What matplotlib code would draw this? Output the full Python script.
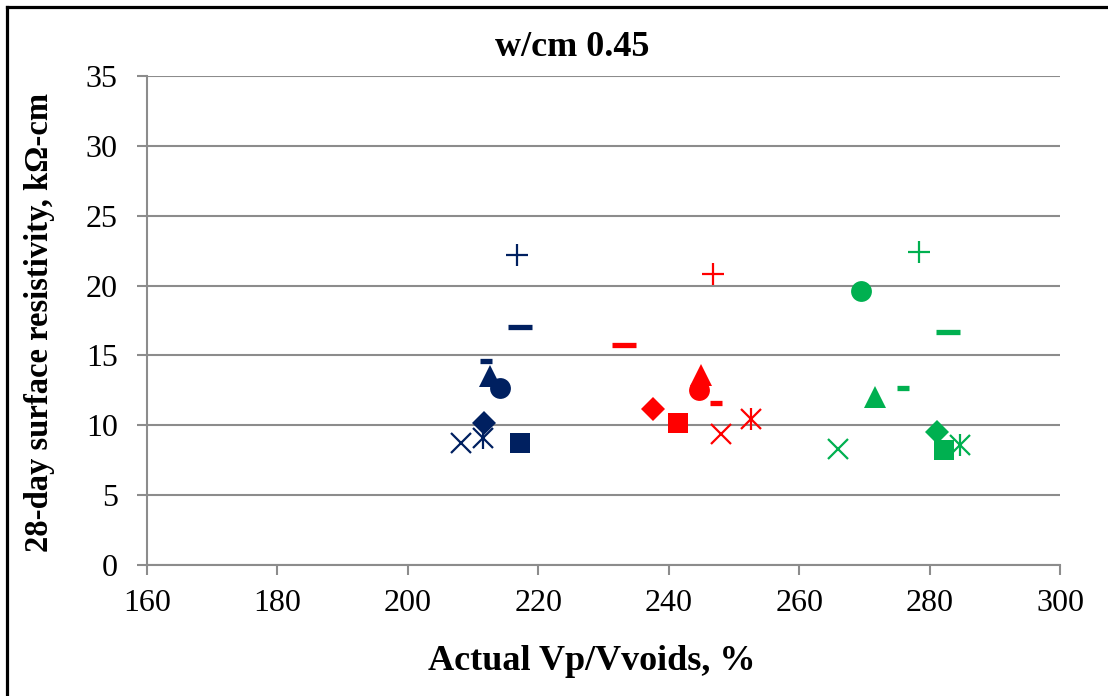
import matplotlib.pyplot as plt
from matplotlib.lines import Line2D

plt.rcParams['font.family'] = ['Liberation Serif', 'DejaVu Serif']

# three mix groups (navy / red / green), nine mixtures each
navy = '#002060'
red = '#FF0000'
green = '#00B050'

# x = Actual Vp/Vvoids (%), y = 28-day resistivity (kOhm-cm)
# order: plus, long dash, short dash, triangle, circle, diamond, square, x, asterisk
navy_x = [216.7, 217.2, 212.0, 212.6, 214.1, 211.7, 217.2, 208.2, 211.5]
navy_y = [22.2, 17.0, 14.6, 13.5, 12.7, 10.2, 8.7, 8.7, 9.1]
red_x = [246.8, 233.2, 247.3, 245.0, 244.7, 237.6, 241.4, 248.0, 252.6]
red_y = [20.8, 15.75, 11.6, 13.6, 12.5, 11.2, 10.2, 9.4, 10.45]
green_x = [278.4, 282.8, 275.9, 271.7, 269.5, 281.2, 282.2, 266.0, 284.7]
green_y = [22.4, 16.7, 12.7, 12.0, 19.6, 9.5, 8.2, 8.3, 8.6]

# marker styles: (marker, size, edge width)
styles = [
    ('+', 15.5, 1.6),
    ('_', 17, 3.8),
    ('_', 8, 3.8),
    ('^', 15.5, 0),
    ('o', 15, 0),
    ('D', 12, 0),
    ('s', 15, 0),
    ('x', 15, 1.6),
    ('asterisk', 15, 1.6),
]

fig = plt.figure(figsize=(11.08, 6.96), dpi=100)
ax = fig.add_axes([0.1327, 0.1882, 0.8240, 0.7026])

for xs, ys, c in [(navy_x, navy_y, navy), (red_x, red_y, red), (green_x, green_y, green)]:
    for (m, ms, mew), x, y in zip(styles, xs, ys):
        if m == 'asterisk':
            ax.plot([x], [y], 'x', ms=ms, mew=mew, color=c, zorder=3)
            ax.plot([x], [y], '|', ms=ms * 1.05, mew=mew, color=c, zorder=3)
        elif mew == 0:
            ax.plot([x], [y], m, ms=ms, mew=0, color=c, zorder=3)
        else:
            ax.plot([x], [y], m, ms=ms, mew=mew, color=c, zorder=3)

ax.set_xlim(160, 300)
ax.set_ylim(0, 35)
ax.set_xticks(range(160, 301, 20))
ax.set_yticks(range(0, 36, 5))
ax.grid(axis='y', color='#8c8c8c', lw=1.5)
ax.set_axisbelow(True)
for s in ['top', 'right']:
    ax.spines[s].set_visible(False)
for s in ['left', 'bottom']:
    ax.spines[s].set_color('#8c8c8c')
    ax.spines[s].set_linewidth(1.5)
ax.tick_params(axis='both', colors='#8c8c8c', length=7, width=1.5,
               labelsize=23, labelcolor='black')
ax.tick_params(axis='x', pad=10)
ax.tick_params(axis='y', pad=14)

fig.text(572 / 1108, 1 - 47 / 696, 'w/cm 0.45', fontsize=26, fontweight='bold',
         ha='center', va='center')
fig.text(592 / 1108, 1 - 662 / 696, 'Actual Vp/Vvoids, %', fontsize=26,
         fontweight='bold', ha='center', va='center')
fig.text(40 / 1108, 1 - 322 / 696, '28-day surface resistivity, k\u03a9-cm',
         fontsize=23.5, fontweight='bold', rotation=90, ha='center', va='center')

# black frame around the chart area (top and left edges visible)
fig.add_artist(Line2D([6.5 / 1108, 1.0], [1 - 6.5 / 696, 1 - 6.5 / 696],
                      transform=fig.transFigure, color='black', lw=2.3))
fig.add_artist(Line2D([6.5 / 1108, 6.5 / 1108], [0.0, 1 - 6.5 / 696],
                      transform=fig.transFigure, color='black', lw=2.3))

fig.savefig('out.png', dpi=100)
